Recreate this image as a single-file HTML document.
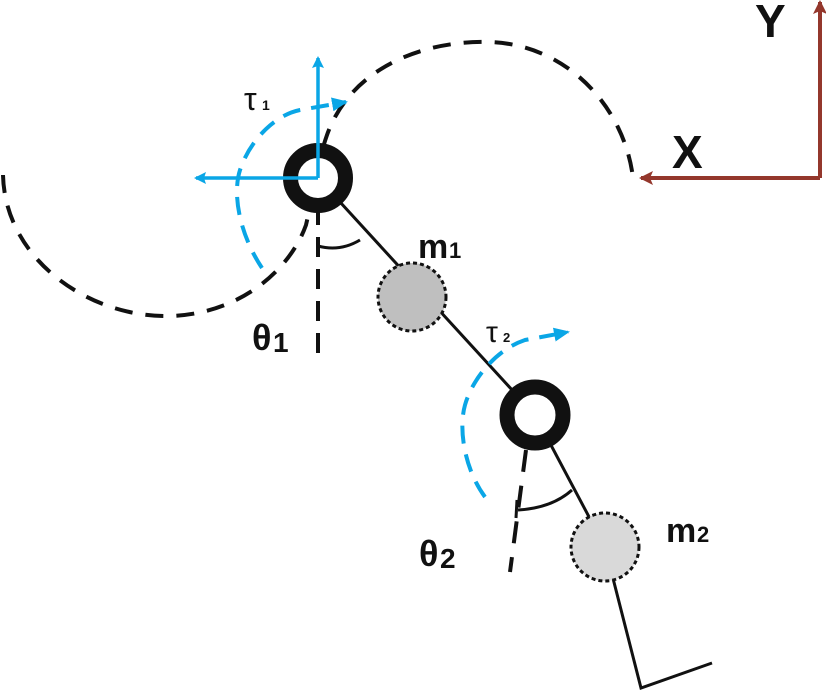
<!DOCTYPE html>
<html><head><meta charset="utf-8"><style>
html,body{margin:0;padding:0;background:#fff;}
svg{display:block;}
text{font-family:"Liberation Sans",Arial,sans-serif;font-weight:bold;fill:#111;}
</style></head><body>
<svg width="826" height="694" viewBox="0 0 826 694" xmlns="http://www.w3.org/2000/svg">
<defs>
<marker id="ab" markerWidth="12" markerHeight="12" refX="10" refY="6" orient="auto" markerUnits="userSpaceOnUse"><path d="M0,0 L12,6 L0,12 L2,6 z" fill="#0aa6e6"/></marker>
<marker id="ab2" markerWidth="16" markerHeight="14" refX="14" refY="7" orient="auto" markerUnits="userSpaceOnUse"><path d="M0,0 L16,7 L0,14 z" fill="#0aa6e6"/></marker>
<marker id="ar" markerWidth="14" markerHeight="14" refX="12" refY="7" orient="auto" markerUnits="userSpaceOnUse"><path d="M0,0 L14,7 L0,14 L3,7 z" fill="#94372c"/></marker>
</defs>
<path d="M3,175 C5,260 90,318 170,316 C240,314 290,270 306,225 C312,200 318,160 327,135 C350,70 420,40 490,42 C570,45 625,110 633,178" fill="none" stroke="#111" stroke-width="4" stroke-dasharray="18,13"/>
<line x1="820" y1="178" x2="820" y2="2" stroke="#94372c" stroke-width="4" marker-end="url(#ar)"/>
<line x1="820" y1="178" x2="641" y2="178" stroke="#94372c" stroke-width="4" marker-end="url(#ar)"/>
<text x="672" y="168" font-size="46">X</text>
<text x="755" y="37" font-size="46">Y</text>
<line x1="318" y1="178" x2="535" y2="415" stroke="#111" stroke-width="3"/>
<line x1="535" y1="415" x2="605" y2="547" stroke="#111" stroke-width="3"/>
<polyline points="605,547 641,688 712,663" fill="none" stroke="#111" stroke-width="3"/>
<line x1="318" y1="205" x2="318" y2="355" stroke="#111" stroke-width="4" stroke-dasharray="20,12"/>
<path d="M318,246 Q340,252 360,240" fill="none" stroke="#111" stroke-width="3"/>
<line x1="526" y1="450" x2="510" y2="572" stroke="#111" stroke-width="4" stroke-dasharray="22,14"/>
<path d="M518,510 Q552,508 572,490" fill="none" stroke="#111" stroke-width="3"/>
<line x1="517" y1="500" x2="516" y2="518" stroke="#111" stroke-width="3"/>
<circle cx="412" cy="297" r="34" fill="#bfbfbf" stroke="#111" stroke-width="3" stroke-dasharray="4,3"/>
<circle cx="605" cy="547" r="34" fill="#d9d9d9" stroke="#111" stroke-width="3" stroke-dasharray="4,3"/>
<circle cx="318" cy="178" r="27.5" fill="#fff" stroke="#111" stroke-width="15"/>
<circle cx="535" cy="415" r="28" fill="#fff" stroke="#111" stroke-width="15"/>
<line x1="318" y1="178" x2="318" y2="58" stroke="#0aa6e6" stroke-width="3.5" marker-end="url(#ab)"/>
<line x1="318" y1="178" x2="196" y2="178" stroke="#0aa6e6" stroke-width="3.5" marker-end="url(#ab)"/>
<path d="M262,268 C240,235 232,195 240,170 C250,140 275,115 300,110 L346,102" fill="none" stroke="#0aa6e6" stroke-width="4" stroke-dasharray="18,11" marker-end="url(#ab2)"/>
<path d="M485,497 C465,470 458,430 465,405 C472,380 495,350 525,340 L568,332" fill="none" stroke="#0aa6e6" stroke-width="4" stroke-dasharray="18,11" marker-end="url(#ab2)"/>
<text x="244" y="110" font-size="32" style="font-weight:normal">τ</text><text x="262" y="110" font-size="14">1</text>
<text x="486" y="342" font-size="30" style="font-weight:normal">τ</text><text x="503" y="342" font-size="13">2</text>
<text x="418" y="258" font-size="34">m</text><text x="449" y="258" font-size="22">1</text>
<text x="666" y="542" font-size="34">m</text><text x="697" y="542" font-size="22">2</text>
<text x="252" y="350" font-size="36">θ</text><text x="273" y="352" font-size="28">1</text>
<text x="419" y="566" font-size="36">θ</text><text x="440" y="568" font-size="28">2</text>
</svg>
</body></html>
